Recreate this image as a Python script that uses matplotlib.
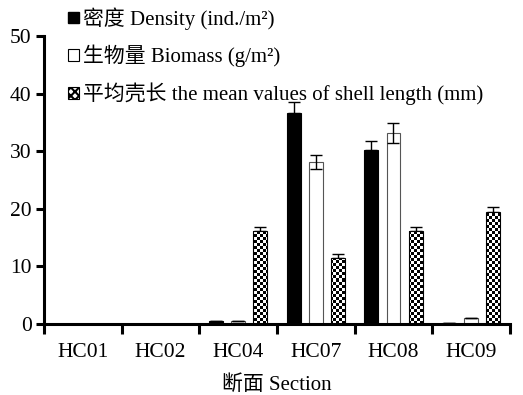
import numpy as np
import matplotlib
matplotlib.use("Agg")
import matplotlib.pyplot as plt
from matplotlib.patches import Patch

plt.rcParams['font.family'] = ['Liberation Serif', 'Noto Sans CJK SC', 'DejaVu Sans']
plt.rcParams['hatch.linewidth'] = 1.5

sections = ["HC01", "HC02", "HC04", "HC07", "HC08", "HC09"]
density = [0.0, 0.0, 0.5, 36.6, 30.2, 0.2]
density_err = [0.0, 0.0, 0.0, 1.9, 1.6, 0.0]
biomass = [0.0, 0.0, 0.5, 28.1, 33.2, 1.0]
biomass_err = [0.0, 0.0, 0.0, 1.2, 1.7, 0.0]
shell_len = [0.0, 0.0, 16.1, 11.5, 16.1, 19.4]
shell_err = [0.0, 0.0, 0.7, 0.6, 0.7, 0.9]

labels = ["密度 Density (ind./m²)",
          "生物量 Biomass (g/m²)",
          "平均壳长 the mean values of shell length (mm)"]

fig = plt.figure(figsize=(5.23, 3.95), dpi=100)
ax = fig.add_axes([44 / 523, 1 - 324 / 395, 466 / 523, 288 / 395])

x = np.arange(len(sections)) + 0.5
w = 0.18
off = 0.285
ekw = dict(ecolor="black", elinewidth=1.0, capsize=4, capthick=1.0)

b1 = ax.bar(x - off, density, w, color="black", edgecolor="black", linewidth=0.8,
            yerr=[np.zeros(6), density_err], error_kw=ekw, zorder=2)
b2 = ax.bar(x, biomass, w, color="white", edgecolor="#555555", linewidth=0.8,
            yerr=biomass_err, error_kw=ekw, zorder=2)
b3 = ax.bar(x + off, shell_len, w, color="white", edgecolor="black", linewidth=0.8,
            yerr=[np.zeros(6), shell_err], error_kw=ekw, zorder=2)

ax.set_xlim(0, len(sections))
ax.set_ylim(0, 50)

# checkerboard fill for shell-length bars, clipped to each bar
ncols, nrows = 155, 96
checker = (np.add.outer(np.arange(nrows), np.arange(ncols)) % 2).astype(float)
for rect in b3:
    if rect.get_height() <= 0:
        continue
    im = ax.imshow(checker, cmap="gray", extent=[0, 1, 0, 1], transform=ax.transAxes,
                   interpolation="nearest", aspect="auto", zorder=2.5)
    im.set_clip_path(rect)
for rect in b3:
    rect.set_zorder(3)
    rect.set_facecolor("none")

for s in ["top", "right"]:
    ax.spines[s].set_visible(False)
for s in ["left", "bottom"]:
    ax.spines[s].set_linewidth(2.2)

ax.set_yticks([0, 10, 20, 30, 40, 50])
ax.tick_params(axis="y", direction="out", length=6, width=2.2, labelsize=15.5, pad=3)
ax.set_xticks(np.arange(len(sections) + 1))
ax.set_xticklabels([])
ax.tick_params(axis="x", which="major", direction="out", length=7, width=2.2)
ax.set_xticks(x, minor=True)
ax.set_xticklabels(sections, minor=True)
ax.tick_params(axis="x", which="minor", length=0, labelsize=15.5, pad=14)
ax.set_xlabel("断面 Section", fontsize=15, labelpad=9)

handles = [Patch(facecolor="black", edgecolor="black"),
           Patch(facecolor="white", edgecolor="black", linewidth=0.8),
           Patch(facecolor="white", edgecolor="black", hatch="xxxx", linewidth=0.8)]
fig.legend(handles, labels, loc="upper left", bbox_to_anchor=(60 / 523, 1 + 1 / 395),
           frameon=False, fontsize=15, handlelength=0.5, handleheight=0.5,
           handletextpad=0.2, labelspacing=0.72, borderaxespad=0)

fig.savefig("out.png", dpi=100)
